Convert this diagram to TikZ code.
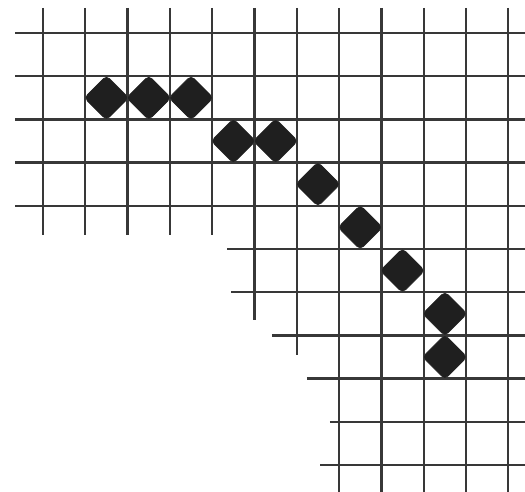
\documentclass[tikz,border=0pt]{standalone}
\usetikzlibrary{shapes.geometric}

\begin{document}
\begin{tikzpicture}[
    x=1cm, y=-1.0213cm,
    gridline/.style={line width=1.5pt, black!78},
    stone/.style={diamond, draw=black!88, fill=black!88, rounded corners=3pt,
                  minimum width=1.06cm, minimum height=1.06cm, inner sep=0pt}
  ]
  \useasboundingbox (-1.017,-0.764) rectangle (11.395,10.625);

  % rows across the whole top
  \foreach \r in {0,...,4}
    \draw[gridline] (-0.66,\r) -- (11.4,\r);
  % lower rows, each starting further right
  \foreach \r/\s in {5/4.35, 6/4.45, 7/5.41, 8/6.24, 9/6.78, 10/6.55}
    \draw[gridline] (\s,\r) -- (11.4,\r);

  % columns
  \foreach \c/\e in {0/4.68, 1/4.68, 2/4.68, 3/4.68, 4/4.68, 5/6.64, 6/7.45,
                     7/10.7, 8/10.7, 9/10.7, 10/10.7, 11/10.7}
    \draw[gridline] (\c,-0.58) -- (\c,\e);

  % stones
  \foreach \x/\y [count=\i] in {1.5/1.5, 2.5/1.5, 3.5/1.5, 4.5/2.5, 5.5/2.5,
                                6.5/3.5, 7.5/4.5, 8.5/5.5, 9.5/6.5, 9.5/7.5}
    \node[stone] (s\i) at (\x,\y) {};

\end{tikzpicture}
\end{document}
